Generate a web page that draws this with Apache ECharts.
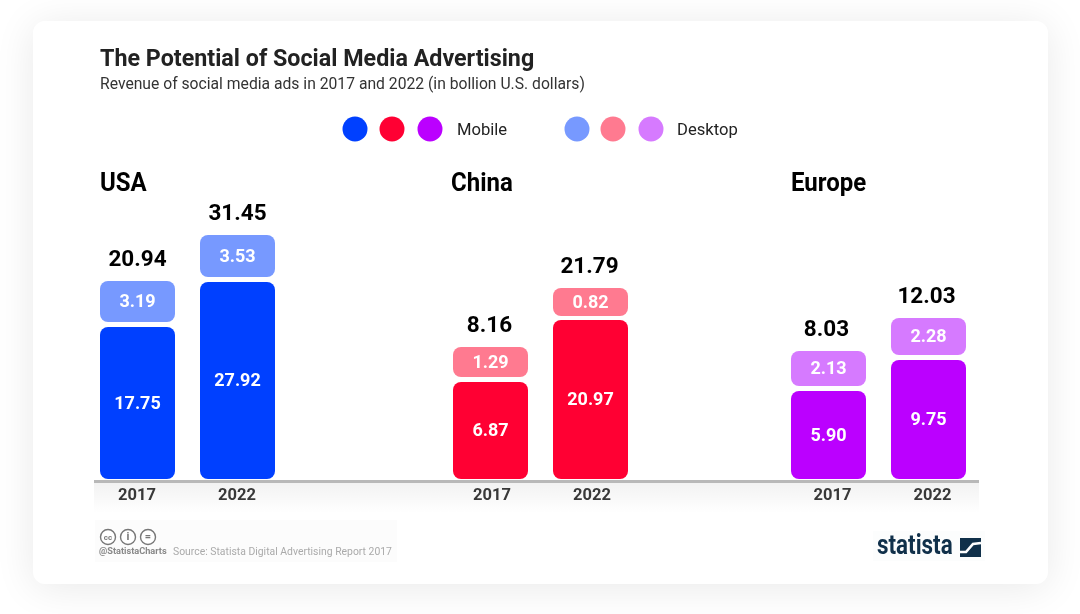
<!DOCTYPE html>
<html><head><meta charset="utf-8">
<style>html,body{margin:0;padding:0;background:#fff}#c{width:1080px;height:614px}</style>
<script src="https://cdn.jsdelivr.net/npm/echarts@6/dist/echarts.min.js"></script>
</head><body><div id="c"></div>
<script>
const regions = ['USA', 'China', 'Europe'];
const years = ['2017', '2022'];
// Printed values
const mobileLabels = [[17.75, 27.92], [6.87, 20.97], [5.90, 9.75]];
const desktopLabels = [[3.19, 3.53], [1.29, 0.82], [2.13, 2.28]];
const totalLabels = [[20.94, 31.45], [8.16, 21.79], [8.03, 12.03]];
// The reference's bars are not proportional to their printed values,
// so bar lengths are read separately from the picture (in axis units).
const mobileDrawn = [[15.2, 19.7], [9.7, 15.9], [8.8, 11.9]];
const desktopDrawn = [[4.1, 4.2], [3.0, 2.8], [3.5, 3.7]];
const spacerDrawn = [[0.5, 0.5], [0.5, 0.4], [0.5, 0.5]];
const mobileColors = ['#0040ff', '#ff0033', '#bb00ff'];
const desktopColors = ['#7799ff', '#ff7a90', '#d67aff'];

const lefts = [87.5, 440.5, 778.5];
const yearLabelPadding = [[0, 1, 0, 0], [0, 0, 0, 3], [0, 0, 0, 8]];
const F = 'Roboto';
const r = 8;
const grids = [], xAxes = [], yAxes = [], series = [];
regions.forEach((name, i) => {
  grids.push({left: lefts[i], width: 200, top: 179, height: 300});
  xAxes.push({type: 'category', gridIndex: i, data: years,
    axisLine: {show: false}, axisTick: {show: false},
    axisLabel: {margin: 8, padding: yearLabelPadding[i], fontFamily: F, fontSize: 16.5, fontWeight: 700, color: '#3a3a3a'}});
  yAxes.push({type: 'value', gridIndex: i, min: 0, max: 30, interval: 10, show: false});
  const base = {type: 'bar', xAxisIndex: i, yAxisIndex: i, stack: name, barWidth: 75, silent: true};
  const inner = {show: true, position: 'inside', offset: [0, 1], fontFamily: F, fontSize: 18, fontWeight: 700, color: '#fff'};
  series.push({...base, name: 'Mobile ' + name, data: mobileDrawn[i],
    itemStyle: {color: mobileColors[i], borderRadius: r},
    label: {...inner, formatter: p => mobileLabels[i][p.dataIndex].toFixed(2)}});
  series.push({...base, name: 'spacer ' + name, data: spacerDrawn[i], itemStyle: {color: 'transparent'}});
  series.push({...base, name: 'Desktop ' + name, data: desktopDrawn[i],
    itemStyle: {color: desktopColors[i], borderRadius: r},
    label: {...inner, formatter: p => desktopLabels[i][p.dataIndex].toFixed(2)}});
  series.push({...base, name: 'Total ' + name, data: [0, 0], itemStyle: {color: 'transparent'},
    label: {show: true, position: 'top', distance: 9, offset: [i === 2 ? -2 : (i === 1 ? -1 : 0), 0], fontFamily: F, fontSize: 22.5, fontWeight: 700, color: '#000',
      formatter: p => totalLabels[i][p.dataIndex].toFixed(2)}});
});
const T = (x, y, text, size, weight, fill, extra, sx) => ({type: 'text', z: 5, silent: true, x, y, scaleX: sx || 1,
  style: Object.assign({text, fontFamily: F, fontSize: size, fontWeight: weight, fill, textVerticalAlign: 'middle'}, extra || {})});
const dot = (cx, color) => ({type: 'circle', z: 5, silent: true, shape: {cx, cy: 129, r: 12.5}, style: {fill: color}});
const cc = (cx, glyph, size) => [
  {type: 'circle', z: 5, silent: true, shape: {cx, cy: 537, r: 7.5}, style: {fill: '#fff', stroke: '#777', lineWidth: 1.4}},
  T(cx, 537.5, glyph, size, 700, '#777', {textAlign: 'center'})];
const graphic = [
  {type: 'rect', z: 0, silent: true, shape: {x: 33, y: 21, width: 1015, height: 563, r: 12},
    style: {fill: '#fff', shadowBlur: 40, shadowColor: 'rgba(0,0,0,0.09)', shadowOffsetY: 4}},
  {type: 'rect', z: 1, silent: true, shape: {x: 94, y: 483, width: 885, height: 30},
    style: {fill: {type: 'linear', x: 0, y: 0, x2: 0, y2: 1, colorStops: [{offset: 0, color: 'rgba(0,0,0,0.05)'}, {offset: 1, color: 'rgba(0,0,0,0)'}]}}},
  {type: 'rect', z: 3, silent: true, shape: {x: 94, y: 480, width: 885, height: 3}, style: {fill: '#b8b8b8'}},
  T(100, 60, 'The Potential of Social Media Advertising', 24, 700, '#222', null, 0.97),
  T(100, 85.5, 'Revenue of social media ads in 2017 and 2022 (in bollion U.S. dollars)', 15.7, 400, '#333'),
  dot(355, mobileColors[0]), dot(392, mobileColors[1]), dot(430, mobileColors[2]),
  T(457, 130.5, 'Mobile', 16.6, 400, '#222'),
  dot(577, desktopColors[0]), dot(613, desktopColors[1]), dot(651, desktopColors[2]),
  T(677, 130.5, 'Desktop', 16.6, 400, '#222'),
  T(100, 184.5, regions[0], 25, 700, '#000', null, 0.96),
  T(451, 184.5, regions[1], 25, 700, '#000', null, 0.96),
  T(791, 184.5, regions[2], 25, 700, '#000', null, 0.96),
  {type: 'rect', z: 1, silent: true, shape: {x: 95, y: 520, width: 302, height: 42}, style: {fill: '#fcfcfc'}},
  {type: 'rect', z: 1, silent: true, shape: {x: 873, y: 531, width: 112, height: 30}, style: {fill: '#fcfdfd'}},
  ...cc(108, 'cc', 8), ...cc(128, 'i', 11), ...cc(148, '=', 11),
  T(99, 552, '@StatistaCharts', 9.2, 700, '#888'),
  T(173, 552, 'Source: Statista Digital Advertising Report 2017', 10.4, 400, '#aaa'),
  T(877, 547, 'statista', 28, 700, '#10304a', null, 0.8),
  {type: 'rect', z: 5, silent: true, shape: {x: 960, y: 538, width: 21, height: 19}, style: {fill: '#10304a'}},
  {type: 'polyline', z: 6, silent: true, shape: {points: [[960, 552], [966, 552], [973, 544], [981, 543]]},
    style: {fill: 'none', stroke: '#fff', lineWidth: 2.6}}
];
const chart = echarts.init(document.getElementById('c'), null, {renderer: 'canvas'});
chart.setOption({animation: false, backgroundColor: 'transparent', grid: grids, xAxis: xAxes, yAxis: yAxes, series, graphic});
</script></body></html>
